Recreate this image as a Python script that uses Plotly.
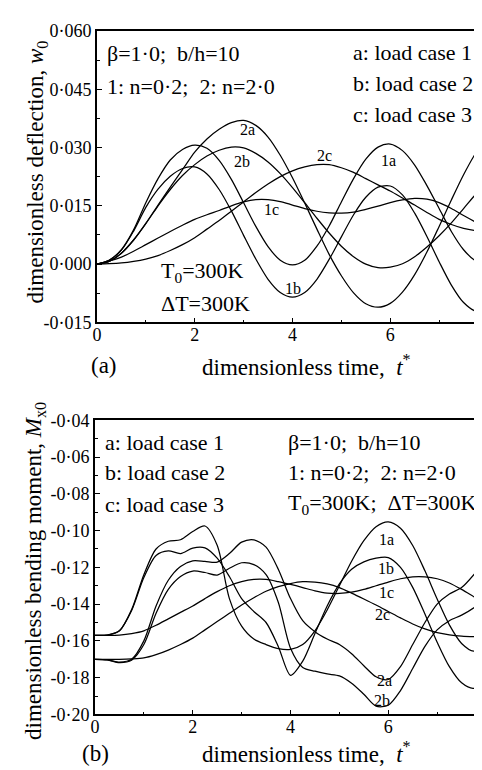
import plotly.graph_objects as go

# ---------------- data ----------------
T = [0, 0.25, 0.5, 0.75, 1.0, 1.25, 1.5, 1.75, 2.0, 2.25, 2.5, 2.75, 3.0, 3.25, 3.5, 3.75,
     4.0, 4.25, 4.5, 4.75, 5.0, 5.25, 5.5, 5.75, 6.0, 6.25, 6.5, 6.75, 7.0, 7.25, 7.5, 7.75, 8.0]

# (a) dimensionless deflection w0
W1a = [0, 0.0010, 0.0037, 0.0088, 0.0158, 0.0220, 0.0268, 0.0295, 0.0306, 0.0298, 0.0267, 0.0218,
       0.0158, 0.0097, 0.0045, 0.0010, -0.0002, 0.0010, 0.0046, 0.0098, 0.0160, 0.0220, 0.0270,
       0.0301, 0.0309, 0.0292, 0.0255, 0.0202, 0.0143, 0.0084, 0.0037, 0.0008, 0.0000]
W1b = [0, 0.0010, 0.0036, 0.0085, 0.0146, 0.0193, 0.0226, 0.0246, 0.0250, 0.0232, 0.0192, 0.0137,
       0.0074, 0.0013, -0.0039, -0.0073, -0.0085, -0.0073, -0.0039, 0.0012, 0.0070, 0.0127, 0.0172,
       0.0198, 0.0201, 0.0178, 0.0131, 0.0071, 0.0006, -0.0054, -0.0099, -0.0121, -0.0119]
W1c = [0, 0.0008, 0.0018, 0.0033, 0.0050, 0.0067, 0.0084, 0.0100, 0.0115, 0.0127, 0.0138, 0.0150,
       0.0160, 0.0166, 0.0166, 0.0161, 0.0152, 0.0143, 0.0136, 0.0132, 0.0131, 0.0134, 0.0141,
       0.0149, 0.0158, 0.0165, 0.0169, 0.0167, 0.0158, 0.0143, 0.0125, 0.0108, 0.0092]
W2a = [0, 0.0007, 0.0028, 0.0062, 0.0105, 0.0152, 0.0198, 0.0243, 0.0288, 0.0322, 0.0347, 0.0364,
       0.0370, 0.0357, 0.0327, 0.0280, 0.0222, 0.0157, 0.0090, 0.0025, -0.0030, -0.0074, -0.0102,
       -0.0111, -0.0101, -0.0072, -0.0027, 0.0031, 0.0097, 0.0165, 0.0230, 0.0286, 0.0329]
W2b = [0, 0.0007, 0.0028, 0.0062, 0.0104, 0.0150, 0.0192, 0.0228, 0.0256, 0.0278, 0.0293, 0.0301,
       0.0299, 0.0285, 0.0263, 0.0233, 0.0197, 0.0158, 0.0118, 0.0080, 0.0046, 0.0019, 0.0000,
       -0.0009, -0.0008, 0.0001, 0.0019, 0.0044, 0.0073, 0.0106, 0.0143, 0.0180, 0.0212]
W2c = [0, 0.0001, 0.0003, 0.0007, 0.0013, 0.0022, 0.0035, 0.0050, 0.0068, 0.0090, 0.0112, 0.0136,
       0.0160, 0.0184, 0.0206, 0.0225, 0.0240, 0.0250, 0.0256, 0.0256, 0.0248, 0.0236, 0.0220,
       0.0204, 0.0188, 0.0170, 0.0152, 0.0133, 0.0115, 0.0102, 0.0092, 0.0086, 0.0083]

# (b) dimensionless bending moment Mx0
M1a = [-0.1570, -0.1568, -0.1545, -0.1430, -0.1240, -0.1100, -0.1058, -0.1050, -0.1005, -0.0975,
       -0.1080, -0.1370, -0.1520, -0.1590, -0.1620, -0.1642, -0.1646, -0.1620, -0.1545, -0.1432,
       -0.1300, -0.1167, -0.1055, -0.0979, -0.0953, -0.0987, -0.1081, -0.1219, -0.1372, -0.1513,
       -0.1614, -0.1655, -0.1600]
M1b = [-0.1570, -0.1568, -0.1545, -0.1435, -0.1255, -0.1135, -0.1110, -0.1125, -0.1095, -0.1094,
       -0.1150, -0.1250, -0.1370, -0.1440, -0.1500, -0.1630, -0.1787, -0.1710, -0.1560, -0.1410,
       -0.1290, -0.1210, -0.1170, -0.1150, -0.1147, -0.1200, -0.1309, -0.1454, -0.1607, -0.1740,
       -0.1828, -0.1858, -0.1800]
M1c = [-0.1570, -0.1570, -0.1568, -0.1560, -0.1545, -0.1515, -0.1480, -0.1445, -0.1410, -0.1370,
       -0.1332, -0.1300, -0.1278, -0.1266, -0.1266, -0.1278, -0.1293, -0.1310, -0.1328, -0.1340,
       -0.1342, -0.1335, -0.1320, -0.1300, -0.1280, -0.1262, -0.1252, -0.1252, -0.1262, -0.1285,
       -0.1320, -0.1360, -0.1400]
M2a = [-0.1700, -0.1703, -0.1715, -0.1700, -0.1600, -0.1410, -0.1270, -0.1195, -0.1165, -0.1168,
       -0.1172, -0.1125, -0.1063, -0.1050, -0.1090, -0.1210, -0.1370, -0.1490, -0.1550, -0.1590,
       -0.1620, -0.1670, -0.1735, -0.1795, -0.1810, -0.1740, -0.1620, -0.1500, -0.1400, -0.1345,
       -0.1310, -0.1240, -0.1153]
M2b = [-0.1700, -0.1703, -0.1718, -0.1705, -0.1620, -0.1450, -0.1320, -0.1250, -0.1220, -0.1228,
       -0.1242, -0.1205, -0.1175, -0.1185, -0.1240, -0.1390, -0.1640, -0.1745, -0.1765, -0.1780,
       -0.1790, -0.1830, -0.1890, -0.1955, -0.1950, -0.1870, -0.1750, -0.1630, -0.1540, -0.1490,
       -0.1460, -0.1420, -0.1365]
M2c = [-0.1700, -0.1700, -0.1700, -0.1698, -0.1693, -0.1675, -0.1650, -0.1620, -0.1585, -0.1540,
       -0.1495, -0.1450, -0.1405, -0.1365, -0.1330, -0.1305, -0.1288, -0.1278, -0.1280, -0.1290,
       -0.1310, -0.1340, -0.1372, -0.1405, -0.1440, -0.1475, -0.1508, -0.1535, -0.1555, -0.1567,
       -0.1574, -0.1577, -0.1578]

X_TICKS = [0, 2, 4, 6, 8]
X_MINOR = [1, 3, 5, 7]
W_TICKS = [0.060, 0.045, 0.030, 0.015, 0.000, -0.015]
W_TICKTEXT = ["0·060", "0·045", "0·030", "0·015", "0·000", "-0·015"]
W_MINOR = [0.0525, 0.0375, 0.0225, 0.0075, -0.0075]
M_TICKS = [-0.04, -0.06, -0.08, -0.10, -0.12, -0.14, -0.16, -0.18, -0.20]
M_TICKTEXT = ["-0·04", "-0·06", "-0·08", "-0·10", "-0·12", "-0·14", "-0·16", "-0·18", "-0·20"]
M_MINOR = [-0.05, -0.07, -0.09, -0.11, -0.13, -0.15, -0.17, -0.19]

# ---------------- figure ----------------
W, H = 482, 770
FONT = "Liberation Serif, Times New Roman, serif"
SP = "\u00a0\u00a0"  # double space as in the original


def px(x):
    return x / W


def py(y):
    return 1 - y / H


fig = go.Figure()
line = dict(color="black", width=1.25, shape="spline", smoothing=0.8)
for ys in (W1a, W1b, W1c, W2a, W2b, W2c):
    fig.add_trace(go.Scatter(x=T, y=ys, mode="lines", line=line, xaxis="x", yaxis="y",
                             showlegend=False, hoverinfo="skip"))
for ys in (M1a, M1b, M1c, M2a, M2b, M2c):
    fig.add_trace(go.Scatter(x=T, y=ys, mode="lines", line=line, xaxis="x2", yaxis="y2",
                             showlegend=False, hoverinfo="skip"))

axis_common = dict(showline=True, linecolor="black", linewidth=1.6, mirror=True,
                   ticks="inside", ticklen=5, tickwidth=1.3, tickcolor="black",
                   showgrid=False, zeroline=False,
                   tickfont=dict(family=FONT, size=18, color="black"))
minor_common = dict(tickmode="array", ticks="inside", ticklen=3, tickcolor="black", tickwidth=1.2)

fig.update_layout(
    width=W, height=H,
    margin=dict(l=0, r=0, t=0, b=0),
    paper_bgcolor="white", plot_bgcolor="white",
    font=dict(family=FONT, color="black"),
    xaxis=dict(domain=[px(85), px(481)], range=[0, 8], anchor="y",
               tickmode="array", tickvals=X_TICKS, ticktext=[str(v) for v in X_TICKS],
               ticklabelstandoff=-5,
               minor=dict(tickvals=X_MINOR, **minor_common), **axis_common),
    yaxis=dict(domain=[py(312.5), py(13.3)], range=[-0.015, 0.060], anchor="x",
               tickmode="array", tickvals=W_TICKS, ticktext=W_TICKTEXT,
               minor=dict(tickvals=W_MINOR, **minor_common), **axis_common),
    xaxis2=dict(domain=[px(83), px(479)], range=[0, 8], anchor="y2",
                tickmode="array", tickvals=X_TICKS, ticktext=[str(v) for v in X_TICKS],
                ticklabelstandoff=-5,
                minor=dict(tickvals=X_MINOR, **minor_common), **axis_common),
    yaxis2=dict(domain=[py(715), py(413)], range=[-0.20, -0.04], anchor="x2",
                tickmode="array", tickvals=M_TICKS, ticktext=M_TICKTEXT,
                minor=dict(tickvals=M_MINOR, **minor_common), **axis_common),
)

BIG = 22
TITLE = 23
LBL = 16


def note(text, x, y, size, xanchor="center", angle=0):
    fig.add_annotation(text=text, x=px(x), y=py(y), xref="paper", yref="paper",
                       xanchor=xanchor, yanchor="middle", showarrow=False, textangle=angle,
                       borderpad=0,
                       font=dict(family=FONT, size=size, color="black"))


# axis titles
note("dimensionless deflection, <i>w</i><sub>0</sub>", 24, 158, TITLE, angle=-90)
note("dimensionless time," + SP + "<i>t</i><sup>*</sup>", 297, 357, TITLE)
note("(a)", 92, 357, TITLE)
note("dimensionless bending moment, <i>M</i><sub>x0</sub>", 23, 568, TITLE, angle=-90)
note("dimensionless time," + SP + "<i>t</i><sup>*</sup>", 297, 754, TITLE)
note("(b)", 84, 755, TITLE)

# panel (a) texts
note("β=1·0;" + SP + "b/h=10", 94, 36, BIG, "left")
note("1: n=0·2;" + SP + "2: n=2·0", 94, 70, BIG, "left")
note("a: load case 1", 466, 35, BIG, "right")
note("b: load case 2", 467, 67, BIG, "right")
note("c: load case 3", 466, 99, BIG, "right")
note("T<sub>0</sub>=300K", 149, 261, BIG, "left")
note("ΔT=300K", 149, 293, BIG, "left")
for txt, x, y in [("2a", 237, 114), ("2b", 232, 147), ("2c", 315, 141),
                  ("1a", 380, 146), ("1c", 262, 197), ("1b", 284, 278)]:
    note(txt, x, y, LBL)

# panel (b) texts
note("a: load case 1", 92, 436, BIG, "left")
note("b: load case 2", 92, 467, BIG, "left")
note("c: load case 3", 92, 499, BIG, "left")
note("β=1·0;" + SP + "b/h=10", 277, 436, BIG, "left")
note("1: n=0·2;" + SP + "2: n=2·0", 277, 467, BIG, "left")
note("T<sub>0</sub>=300K;" + SP + "ΔT=300K", 277, 499, BIG, "left")
for txt, x, y in [("1a", 378, 535), ("1b", 378, 565), ("1c", 378, 590),
                  ("2c", 374, 612), ("2a", 376, 680), ("2b", 374, 701)]:
    note(txt, x, y, LBL)

fig.write_html("out.html")
